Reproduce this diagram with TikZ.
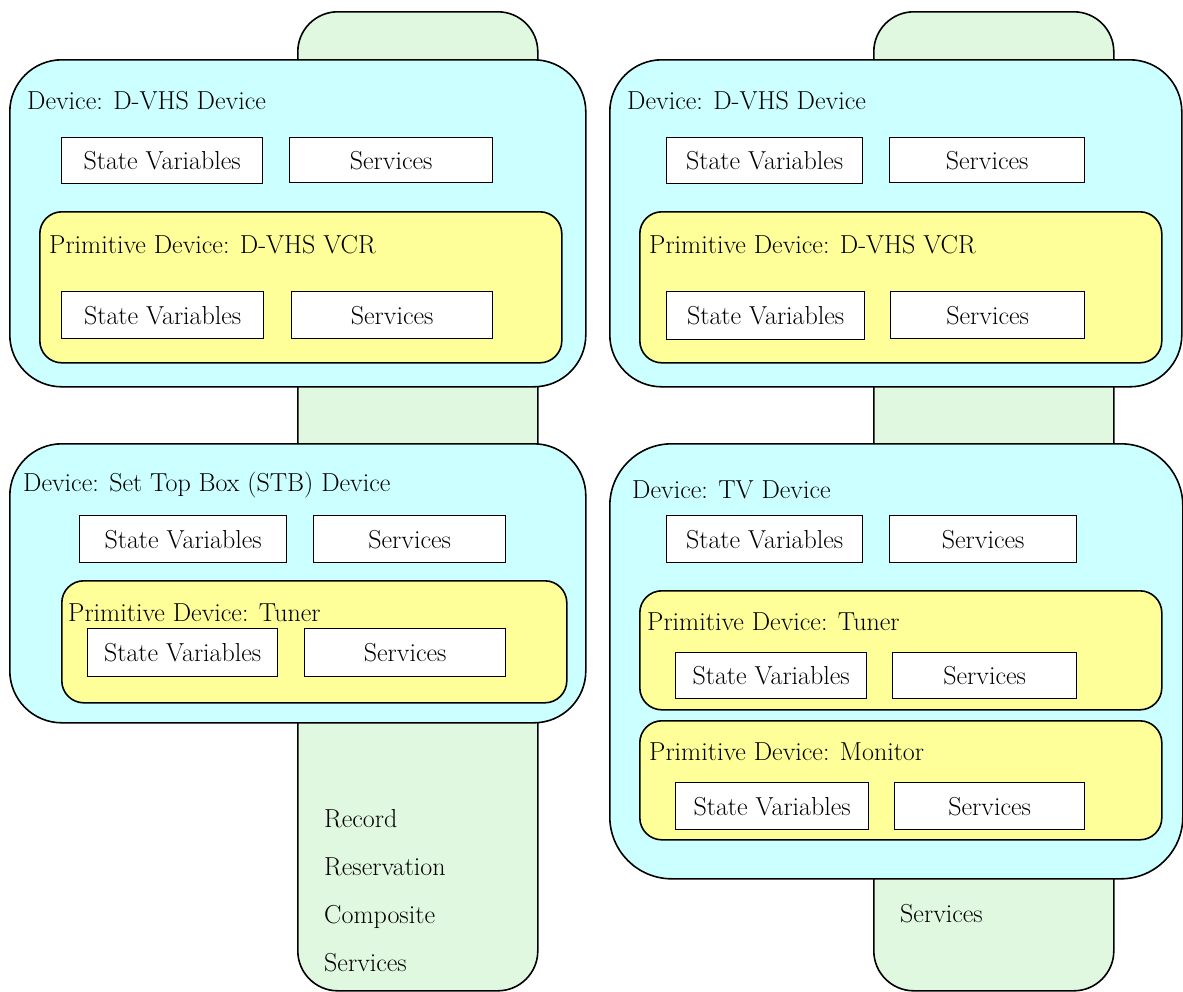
\documentclass[tikz,border=0pt]{standalone}
\usepackage{tikz}
\definecolor{barg}{RGB}{224,248,224}
\definecolor{devc}{RGB}{204,255,255}
\definecolor{primy}{RGB}{255,255,153}
\begin{document}
\begin{tikzpicture}[x=1pt,y=-1pt,
  every node/.style={font=\fontsize{26}{30}\selectfont},
  bar/.style={draw=black, line width=1.6pt, fill=barg, rounded corners=40pt, anchor=north west, inner sep=0pt},
  dev/.style={draw=black, line width=1.6pt, fill=devc, rounded corners=52pt, anchor=north west, inner sep=0pt},
  prim/.style={draw=black, line width=1.6pt, fill=primy, rounded corners=22pt, anchor=north west, inner sep=0pt},
  sbox/.style={draw=black, line width=1.3pt, fill=white, anchor=north west, inner sep=0pt},
  lbl/.style={anchor=base west, inner sep=0pt}
]
\useasboundingbox (0,0) rectangle (1183,991);
% green bars
\node[bar, minimum width=240pt, minimum height=979pt] (g1) at (297,11) {};
\node[bar, minimum width=240pt, minimum height=979pt] (g2) at (873,11) {};
\node[lbl] (r1) at (324,827) {Record};
\node[lbl] (r2) at (324,875) {Reservation};
\node[lbl] (r3) at (324,923) {Composite};
\node[lbl] (r4) at (324,971) {Services};
\node[lbl] (r5) at (900,922) {Services};

% left top device
\node[dev, minimum width=576pt, minimum height=327pt] (d1) at (9,59) {};
\node[lbl] (d1t) at (27,109) {Device: D-VHS Device};
\node[sbox, minimum width=201pt, minimum height=46pt] (d1a) at (61,137) {State Variables};
\node[sbox, minimum width=203pt, minimum height=45pt] (d1b) at (289,137) {Services};
\node[prim, minimum width=522pt, minimum height=151pt] (p1) at (39,211) {};
\node[lbl] (p1t) at (49,253) {Primitive Device: D-VHS VCR};
\node[sbox, minimum width=202pt, minimum height=47pt] (p1a) at (61,291) {State Variables};
\node[sbox, minimum width=201pt, minimum height=47pt] (p1b) at (291,291) {Services};

% right top device
\node[dev, minimum width=572pt, minimum height=327pt] (d2) at (609,59) {};
\node[lbl] (d2t) at (627,109) {Device: D-VHS Device};
\node[sbox, minimum width=196pt, minimum height=46pt] (d2a) at (666,137) {State Variables};
\node[sbox, minimum width=195pt, minimum height=45pt] (d2b) at (889,137) {Services};
\node[prim, minimum width=522pt, minimum height=151pt] (p2) at (639,211) {};
\node[lbl] (p2t) at (649,253) {Primitive Device: D-VHS VCR};
\node[sbox, minimum width=198pt, minimum height=48pt] (p2a) at (666,291) {State Variables};
\node[sbox, minimum width=194pt, minimum height=47pt] (p2b) at (890,291) {Services};

% left bottom device
\node[dev, minimum width=576pt, minimum height=279pt] (d3) at (9,443) {};
\node[lbl] (d3t) at (23,491) {Device: Set Top Box (STB) Device};
\node[sbox, minimum width=207pt, minimum height=47pt] (d3a) at (79,515) {State Variables};
\node[sbox, minimum width=192pt, minimum height=47pt] (d3b) at (313,515) {Services};
\node[prim, minimum width=505pt, minimum height=122pt] (p3) at (61,580) {};
\node[lbl] (p3t) at (68,621) {Primitive Device: Tuner};
\node[sbox, minimum width=190pt, minimum height=48pt] (p3a) at (87,628) {State Variables};
\node[sbox, minimum width=201pt, minimum height=48pt] (p3b) at (304,628) {Services};

% right bottom device
\node[dev, rounded corners=62pt, minimum width=573pt, minimum height=435pt] (d4) at (609,443) {};
\node[lbl] (d4t) at (632,498) {Device: TV Device};
\node[sbox, minimum width=196pt, minimum height=47pt] (d4a) at (666,515) {State Variables};
\node[sbox, minimum width=187pt, minimum height=47pt] (d4b) at (889,515) {Services};
\node[prim, minimum width=522pt, minimum height=119pt] (p4) at (639,590) {};
\node[lbl] (p4t) at (647,630) {Primitive Device: Tuner};
\node[sbox, minimum width=191pt, minimum height=46pt] (p4a) at (675,652) {State Variables};
\node[sbox, minimum width=184pt, minimum height=46pt] (p4b) at (892,652) {Services};
\node[prim, minimum width=522pt, minimum height=119pt] (p5) at (639,720) {};
\node[lbl] (p5t) at (649,760) {Primitive Device: Monitor};
\node[sbox, minimum width=193pt, minimum height=47pt] (p5a) at (675,782) {State Variables};
\node[sbox, minimum width=190pt, minimum height=47pt] (p5b) at (894,782) {Services};
\end{tikzpicture}
\end{document}
